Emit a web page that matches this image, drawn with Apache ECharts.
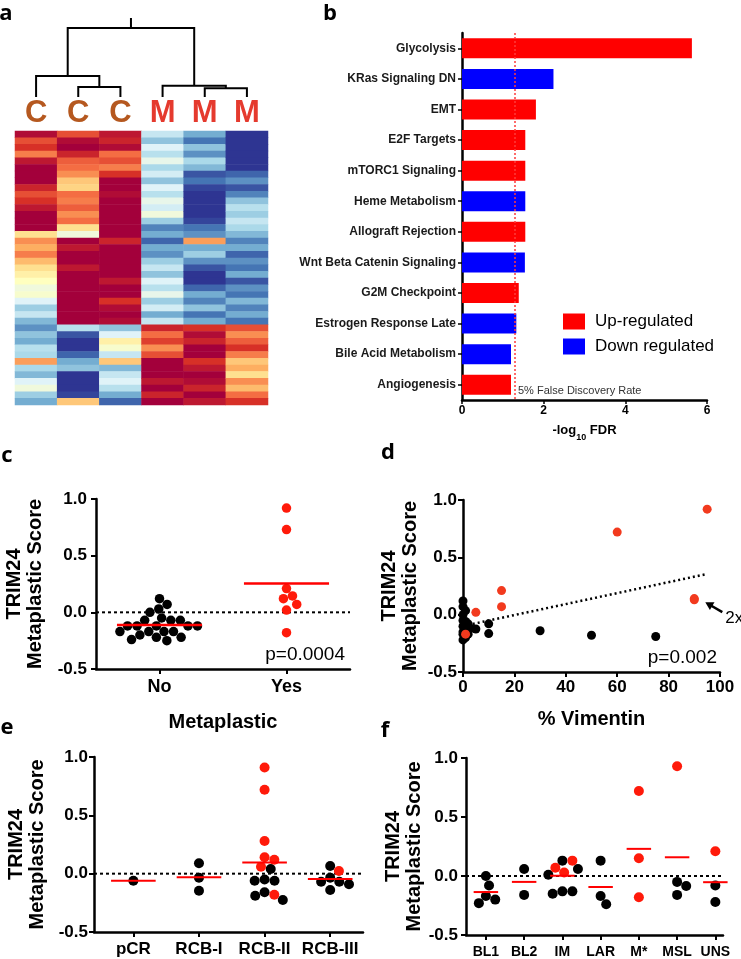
<!DOCTYPE html>
<html>
<head>
<meta charset="utf-8">
<script src="https://cdn.jsdelivr.net/npm/echarts@6/dist/echarts.min.js"></script>
<style>
html, body { margin: 0; padding: 0; background: #fff; }
#chart { width: 741px; height: 959px; }
</style>
</head>
<body>
<div id="chart"></div>
<script>
// ---------- panel a: expression heatmap (rows top -> bottom) ----------
const samples = ['C1', 'C2', 'C3', 'M1', 'M2', 'M3']
const heatC1 = [0.95, 0.7, 0.8, 0.55, 0.9, 1, 1, 1, 0.85, 0.7, 0.8, 0.9, 1, 1, 1, 0.2, 0.5, 0.4, 0.55, 0.35, 0.2, 0.1, 0, -0.1, -0.05, -0.2, -0.45, -0.3, -0.55, -0.7, -0.5, -0.6, -0.35, -0.4, 0.45, -0.4, -0.55, -0.2, -0.1, -0.45, -0.6]
const heatC2 = [0.7, 0.95, 1, 0.85, 0.65, 0.6, 0.5, 0.3, 0.25, 0.6, 0.55, 0.65, 0.5, 0.6, 0.2, -0.1, 1, 0.9, 1, 1, 0.9, 1, 1, 1, 1, 1, 1, 1, 1, -0.35, -0.9, -1, -1, -0.85, -0.6, -0.5, -1, -1, -1, -0.95, 0.3]
const heatC3 = [0.9, 0.85, 0.95, 0.6, 0.7, 0.55, 0.8, 1, 1, 0.95, 1, 1, 1, 1, 1, 1, 0.85, 1, 1, 1, 1, 1, 0.9, 1, 1, 0.8, 0.95, 1, 0.95, -0.5, -0.2, 0.1, -0.05, -0.3, 0.3, -0.55, -0.3, -0.2, -0.35, -0.6, -0.85]
const heatM1 = [-0.3, -0.5, -0.2, -0.35, -0.15, -0.4, -0.25, -0.5, -0.2, -0.35, -0.15, -0.25, -0.1, -0.45, -0.75, -0.6, -0.85, -0.6, -0.7, -0.45, -0.3, -0.5, -0.2, -0.35, -0.15, -0.45, -0.25, -0.6, -0.3, 0.85, 0.6, 0.75, 0.5, 0.7, 1, 1, 1, 0.9, 1, 0.85, 1]
const heatM2 = [-0.6, -0.8, -0.5, -0.7, -0.4, -0.55, -0.9, -0.8, -0.95, -1, -1, -1, -1, -0.95, -0.8, -0.7, 0.45, -0.6, -0.45, -0.7, -0.9, -1, -1, -0.85, -0.6, -0.75, -0.5, -0.8, -0.6, 0.8, 0.95, 0.85, 1, 1, 0.8, 0.9, 1, 0.95, 0.85, 1, 0.9]
const heatM3 = [-1, -1, -1, -1, -1, -1, -0.85, -0.7, -0.9, -0.75, -0.5, -0.35, -0.45, -0.3, -0.4, -0.55, -0.75, -0.6, -0.85, -0.7, -0.8, -0.6, -0.9, -0.7, -0.8, -0.55, -0.75, -0.6, -0.8, 0.7, 0.5, 0.65, 0.8, 0.55, 0.3, 0.4, 0.2, 0.5, 0.35, 0.6, 0.8]
// dendrogram: [left node, right node, merge height]; leaves are 0..5, merges get 6, 7, ...
const dendroMerges = [[1, 2, 10], [4, 5, 8.7], [0, 6, 21], [3, 7, 11.3], [8, 9, 69]]
const dendroRootStub = 10

// ---------- panel b: hallmark pathways ----------
const pathways = ['Glycolysis', 'KRas Signaling DN', 'EMT', 'E2F Targets', 'mTORC1 Signaling', 'Heme Metabolism',
  'Allograft Rejection', 'Wnt Beta Catenin Signaling', 'G2M Checkpoint', 'Estrogen Response Late',
  'Bile Acid Metabolism', 'Angiogenesis']
const negLog10Fdr = [5.63, 2.24, 1.81, 1.55, 1.55, 1.55, 1.55, 1.54, 1.39, 1.33, 1.2, 1.2]
const direction = ['up', 'down', 'up', 'up', 'up', 'down', 'up', 'down', 'up', 'down', 'down', 'up']
const fdrThreshold = 1.3

// ---------- panel c: score by metaplastic status ----------
const metaplasticGroups = ['No', 'Yes']
const scoresNo = [0.12, 0.07, 0.03, 0.0, -0.05, -0.07, -0.07, -0.07, -0.12, -0.12, -0.12, -0.12, -0.12,
  -0.17, -0.17, -0.17, -0.17, -0.2, -0.22, -0.22, -0.24, -0.25]
const scoresYes = [0.92, 0.73, 0.21, 0.145, 0.12, 0.07, 0.02, -0.18]

// ---------- panel d: score vs % vimentin ----------
const vimentinBlack = [0, 1, 0, 0, 2, 0, 1, 0, 0, 1, 0, 2, 3, 5, 10, 10, 30, 50, 75, 1, 2, 0]
const scoreBlack = [0.12, 0.035, 0.0, -0.05, -0.08, -0.1, -0.12, -0.15, -0.17, -0.2, -0.22, -0.1, -0.12, -0.125, -0.08, -0.165, -0.14, -0.18, -0.19, -0.06, -0.17, 0.07]
const vimentinRed = [95, 60, 15, 15, 5, 90, 90, 1]
const scoreRed = [0.92, 0.72, 0.21, 0.07, 0.02, 0.13, 0.14, -0.17]
const trendIntercept = -0.099
const trendSlope = 0.00478
const duplicateNote = { vimentin: 90, score: 0.135, label: '2x' }

// ---------- panel e: score by residual cancer burden ----------
const rcbGroups = ['pCR', 'RCB-I', 'RCB-II', 'RCB-III']
const rcbBlack = [[-0.06], [0.09, -0.034, -0.147], [0.04, -0.06, -0.06, -0.05, -0.16, -0.225, -0.19], [0.065, -0.034, -0.07, -0.09, -0.07, -0.14]]
const rcbRed = [[], [], [0.91, 0.72, 0.28, 0.12, 0.14, 0.06, -0.18], [0.023]]

// ---------- panel f: score by TNBC subtype ----------
const subtypes = ['BL1', 'BL2', 'IM', 'LAR', 'M*', 'MSL', 'UNS']
const subtypeBlack = [[0, -0.08, -0.17, -0.2, -0.23], [0.06, -0.16], [0.06, 0.13, 0.01, -0.15, -0.13, -0.13], [0.13, -0.17, -0.24], [], [-0.05, -0.16, -0.085], [-0.08, -0.22, -0.12]]
const subtypeRed = [[], [], [0.13, 0.03, 0.07], [], [0.72, 0.15, -0.18], [0.93], [0.21]]

const FONT = 'Liberation Sans'
const RED = '#ff1a0a'

// beeswarm: spread points of one group sideways so dots don't overlap
function swarm (points, center, dotPx, pxPerX, pxPerY) {
  const placed = []
  const order = points.map((p, i) => i).sort((a, b) => points[b].y - points[a].y)
  const out = []
  order.forEach(i => {
    const py = points[i].y * pxPerY
    const cands = [0]
    placed.forEach(p => {
      const dy = Math.abs(p.py - py)
      if (dy < dotPx) {
        const dx = Math.sqrt(dotPx * dotPx - dy * dy)
        cands.push(p.px + dx, p.px - dx)
      }
    })
    cands.sort((a, b) => Math.abs(a) - Math.abs(b))
    const px = cands.find(c => placed.every(p => (p.px - c) ** 2 + (p.py - py) ** 2 >= dotPx * dotPx - 0.01))
    placed.push({ px, py })
    out.push({ x: center + px / pxPerX, y: points[i].y, red: points[i].red })
  })
  return out
}

function mean (arr) {
  return arr.reduce((s, v) => s + v, 0) / arr.length
}

// scatter (black + red), zero line and group mean bars for a strip panel
function stripSeries (axisIndex, blackGroups, redGroups, grid, xMin, xMax, dot, halfWidth, lineWidth) {
  const pxPerX = grid.width / (xMax - xMin)
  const pxPerY = grid.height / 1.5
  const black = []
  const red = []
  const means = []
  blackGroups.forEach((g, gi) => {
    const pts = g.map(y => ({ y, red: false })).concat(redGroups[gi].map(y => ({ y, red: true })))
    if (!pts.length) return
    swarm(pts, gi, dot, pxPerX, pxPerY).forEach(p => (p.red ? red : black).push([p.x, p.y]))
    means.push([gi, mean(pts.map(p => p.y))])
  })
  const ax = { xAxisIndex: axisIndex, yAxisIndex: axisIndex }
  return [
    {
      type: 'line', ...ax, showSymbol: false, silent: true, z: 1,
      data: [[xMin, 0], [xMax, 0]], lineStyle: { color: '#000', type: [3, 3], width: 2 }
    },
    { type: 'scatter', ...ax, data: black, symbolSize: dot, itemStyle: { color: '#000', opacity: 1 }, z: 3 },
    { type: 'scatter', ...ax, data: red, symbolSize: dot, itemStyle: { color: RED, opacity: 1 }, z: 4 },
    {
      type: 'custom', ...ax, data: means, z: 5, silent: true,
      renderItem: (params, api) => {
        const a = api.coord([api.value(0) - halfWidth, api.value(1)])
        const b = api.coord([api.value(0) + halfWidth, api.value(1)])
        return { type: 'line', shape: { x1: a[0], y1: a[1], x2: b[0], y2: b[1] }, style: { stroke: '#ff0000', lineWidth } }
      }
    }
  ]
}

function scoreAxis (gridIndex, nameGap, labelMargin) {
  return {
    type: 'value', gridIndex, min: -0.5, max: 1.0, interval: 0.5,
    axisLine: { show: true, onZero: false, lineStyle: { color: '#000', width: 2.5 } },
    axisTick: { show: true, length: 5, lineStyle: { color: '#000', width: 2 } },
    axisLabel: { color: '#000', fontSize: 17, fontWeight: 'bold', fontFamily: FONT, margin: labelMargin, formatter: v => v.toFixed(1) },
    splitLine: { show: false },
    name: 'TRIM24\nMetaplastic Score', nameLocation: 'middle', nameRotate: 90, nameGap,
    nameTextStyle: { color: '#000', fontSize: 20, fontWeight: 'bold', fontFamily: FONT, lineHeight: 21 }
  }
}

function groupAxis (gridIndex, labels, min, max, fontSize, margin, name, nameGap) {
  const ticks = labels.map((l, i) => i)
  return {
    type: 'value', gridIndex, min, max,
    axisLine: { show: true, onZero: false, lineStyle: { color: '#000', width: 2.5 } },
    axisTick: { show: true, length: 5, customValues: ticks, lineStyle: { color: '#000', width: 2 } },
    axisLabel: { customValues: ticks, color: '#000', fontSize, fontWeight: 'bold', fontFamily: FONT, margin, formatter: v => labels[Math.round(v)] || '' },
    splitLine: { show: false },
    name, nameLocation: 'middle', nameGap,
    nameTextStyle: { color: '#000', fontSize: 20, fontWeight: 'bold', fontFamily: FONT }
  }
}

const grids = [
  { left: 15, top: 18, width: 253, height: 79 }, // dendrogram
  { left: 15, top: 131, width: 253, height: 274 }, // heatmap
  { left: 462, top: 33, width: 245, height: 367 }, // b
  { left: 96, top: 499, width: 254, height: 170 }, // c
  { left: 463, top: 500, width: 257, height: 172 }, // d
  { left: 94, top: 757, width: 269, height: 175 }, // e
  { left: 466, top: 758, width: 257, height: 178 } // f
]

// heatmap cells
const heatColumns = [heatC1, heatC2, heatC3, heatM1, heatM2, heatM3]
const heatRows = heatC1.map((v, i) => 'g' + i)
const heatData = []
heatColumns.forEach((col, j) => col.forEach((v, i) => heatData.push([j, i, v])))

// dendrogram links
const nodes = samples.map((s, i) => ({ x: i + 0.5, h: 0 }))
const dendroLinks = dendroMerges.map(([a, b, h]) => {
  const na = nodes[a]
  const nb = nodes[b]
  nodes.push({ x: (na.x + nb.x) / 2, h })
  return { coords: [[na.x, na.h], [na.x, h], [nb.x, h], [nb.x, nb.h]] }
})
const root = nodes[nodes.length - 1]
dendroLinks.push({ coords: [[root.x, root.h], [root.x, root.h + dendroRootStub]] })

// trend line across the observed vimentin range
const allVim = vimentinBlack.concat(vimentinRed)
const trendX = [Math.min(...allVim), Math.max(...allVim)]

const option = {
  animation: false,
  backgroundColor: '#fff',
  grid: grids,
  visualMap: {
    type: 'continuous', show: false, min: -1, max: 1, dimension: 2, seriesIndex: 0,
    inRange: { color: ['#2e3592', '#4575b4', '#74add1', '#abd9e9', '#e0f3f8', '#ffffbf', '#fee090', '#fdae61', '#f46d43', '#d73027', '#a3003b'] }
  },
  legend: {
    data: ['Up-regulated', 'Down regulated'], orient: 'vertical', left: 558, top: 308,
    itemWidth: 22, itemHeight: 16, itemGap: 8, icon: 'rect',
    textStyle: { color: '#000', fontSize: 17, fontFamily: FONT, padding: [0, 0, 0, 5] }
  },
  xAxis: [
    { type: 'value', gridIndex: 0, min: 0, max: 6, show: false },
    {
      type: 'category', gridIndex: 1, data: samples, position: 'top',
      axisLine: { show: false }, axisTick: { show: false },
      axisLabel: {
        margin: 2, interval: 0,
        formatter: v => v[0] === 'C' ? '{c|C}' : '{m|M}',
        rich: {
          c: { color: '#b5581f', fontSize: 31, fontWeight: 'bold', fontFamily: FONT },
          m: { color: '#e53a2e', fontSize: 31, fontWeight: 'bold', fontFamily: FONT }
        }
      }
    },
    {
      type: 'value', gridIndex: 2, min: 0, max: 6, interval: 2,
      axisLine: { show: true, onZero: false, lineStyle: { color: '#000', width: 2.5 } },
      axisTick: { show: true, length: 4, lineStyle: { color: '#000', width: 1.5 } },
      axisLabel: { color: '#000', fontSize: 12, fontWeight: 'bold', fontFamily: FONT, margin: 5 },
      splitLine: { show: false },
      name: '{b|-log}{s|10}{b| FDR}', nameLocation: 'middle', nameGap: 24,
      nameTextStyle: {
        rich: {
          b: { color: '#000', fontSize: 13, fontWeight: 'bold', fontFamily: FONT, lineHeight: 18, verticalAlign: 'top' },
          s: { color: '#000', fontSize: 9, fontWeight: 'bold', fontFamily: FONT, lineHeight: 9, verticalAlign: 'bottom' }
        }
      }
    },
    groupAxis(3, metaplasticGroups, -0.5, 1.5, 18, 9, 'Metaplastic', 43),
    {
      type: 'value', gridIndex: 4, min: 0, max: 100, interval: 20,
      axisLine: { show: true, onZero: false, lineStyle: { color: '#000', width: 2.5 } },
      axisTick: { show: true, length: 5, lineStyle: { color: '#000', width: 2 } },
      axisLabel: { color: '#000', fontSize: 17, fontWeight: 'bold', fontFamily: FONT, margin: 7 },
      splitLine: { show: false },
      name: '% Vimentin', nameLocation: 'middle', nameGap: 37,
      nameTextStyle: { color: '#000', fontSize: 20, fontWeight: 'bold', fontFamily: FONT }
    },
    groupAxis(5, rcbGroups, -0.6, 3.5, 17, 9, '', 0),
    groupAxis(6, subtypes, -0.52, 6.2, 14, 10, '', 0)
  ],
  yAxis: [
    { type: 'value', gridIndex: 0, min: 0, max: 79, show: false },
    { type: 'category', gridIndex: 1, data: heatRows, inverse: true, show: false },
    {
      type: 'category', gridIndex: 2, data: pathways, inverse: true,
      axisLine: { show: true, lineStyle: { color: '#000', width: 2.5 } },
      axisTick: { show: true, alignWithLabel: true, length: 4, lineStyle: { color: '#000', width: 1.5 } },
      axisLabel: { interval: 0, color: '#1a1a1a', fontSize: 12, fontWeight: 'bold', fontFamily: FONT, margin: 6 }
    },
    scoreAxis(3, 50.5, 9),
    scoreAxis(4, 42.5, 6),
    scoreAxis(5, 46.5, 6),
    scoreAxis(6, 41.5, 8)
  ],
  series: [
    {
      type: 'heatmap', xAxisIndex: 1, yAxisIndex: 1, data: heatData,
      itemStyle: { borderWidth: 0 }, emphasis: { disabled: true }
    },
    {
      type: 'lines', coordinateSystem: 'cartesian2d', xAxisIndex: 0, yAxisIndex: 0, polyline: true,
      data: dendroLinks, lineStyle: { color: '#000', width: 2, opacity: 1 }
    },
    {
      type: 'bar', name: 'Up-regulated', xAxisIndex: 2, yAxisIndex: 2, barWidth: 20, barGap: '-100%',
      data: negLog10Fdr.map((v, i) => direction[i] === 'up' ? v : null),
      itemStyle: { color: '#ff0000' },
      markLine: {
        symbol: 'none', silent: true, label: { show: false },
        lineStyle: { color: '#ff3b3b', type: [2, 2], width: 1.5 },
        data: [{ xAxis: fdrThreshold }]
      }
    },
    {
      type: 'bar', name: 'Down regulated', xAxisIndex: 2, yAxisIndex: 2, barWidth: 20, barGap: '-100%',
      data: negLog10Fdr.map((v, i) => direction[i] === 'down' ? v : null),
      itemStyle: { color: '#0000ff' }
    },
    ...stripSeries(3, [scoresNo, []], [[], scoresYes], grids[3], -0.5, 1.5, 9.5, 0.335, 2.5),
    {
      type: 'line', xAxisIndex: 4, yAxisIndex: 4, showSymbol: false, silent: true,
      data: trendX.map(x => [x, trendIntercept + trendSlope * x]),
      lineStyle: { color: '#000', type: [2, 3], width: 2.5 }, z: 2
    },
    {
      type: 'scatter', xAxisIndex: 4, yAxisIndex: 4, symbolSize: 9,
      data: vimentinBlack.map((x, i) => [x, scoreBlack[i]]), itemStyle: { color: '#000', opacity: 1 }, z: 3
    },
    {
      type: 'scatter', xAxisIndex: 4, yAxisIndex: 4, symbolSize: 9,
      data: vimentinRed.map((x, i) => [x, scoreRed[i]]), itemStyle: { color: '#f23a1e', opacity: 1 }, z: 4
    },
    ...stripSeries(5, rcbBlack, rcbRed, grids[5], -0.6, 3.5, 10, 0.34, 2),
    ...stripSeries(6, subtypeBlack, subtypeRed, grids[6], -0.52, 6.2, 10, 0.32, 2)
  ]
}

const chart = echarts.init(document.getElementById('chart'))
chart.setOption(option)

// annotations
const panelLetters = [['a', 6, 14], ['b', 330, 14], ['c', 7, 456], ['d', 388, 453], ['e', 7, 728], ['f', 385, 731]]
const graphic = panelLetters.map(([t, x, y]) => ({
  type: 'text', x, y,
  style: { text: t, fontSize: 22, fontWeight: 'bold', fontFamily: 'Open Sans', fill: '#000', align: 'center', verticalAlign: 'middle' }
}))
graphic.push(
  { type: 'text', x: 518, y: 391, style: { text: '5% False Discovery Rate', fontSize: 11, fontFamily: FONT, fill: '#333', align: 'left', verticalAlign: 'middle' } },
  { type: 'text', x: 345, y: 655, style: { text: 'p=0.0004', fontSize: 19, fontFamily: FONT, fill: '#000', align: 'right', verticalAlign: 'middle' } },
  { type: 'text', x: 717, y: 658, style: { text: 'p=0.002', fontSize: 19, fontFamily: FONT, fill: '#000', align: 'right', verticalAlign: 'middle' } }
)
const p = chart.convertToPixel({ xAxisIndex: 4, yAxisIndex: 4 }, [duplicateNote.vimentin, duplicateNote.score])
const tip = [p[0] + 11, p[1] + 3]
const tail = [p[0] + 28, p[1] + 13]
const len = Math.hypot(tip[0] - tail[0], tip[1] - tail[1])
const ux = (tip[0] - tail[0]) / len
const uy = (tip[1] - tail[1]) / len
graphic.push(
  { type: 'line', shape: { x1: tail[0], y1: tail[1], x2: tip[0] - ux * 5, y2: tip[1] - uy * 5 }, style: { stroke: '#000', lineWidth: 2.5 } },
  {
    type: 'polygon',
    shape: { points: [tip, [tip[0] - ux * 8 - uy * 4.5, tip[1] - uy * 8 + ux * 4.5], [tip[0] - ux * 8 + uy * 4.5, tip[1] - uy * 8 - ux * 4.5]] },
    style: { fill: '#000' }
  },
  { type: 'text', x: tail[0] + 3, y: tail[1] + 6, style: { text: duplicateNote.label, fontSize: 17, fontFamily: FONT, fill: '#000', align: 'left', verticalAlign: 'middle' } }
)
chart.setOption({ graphic })
</script>
</body>
</html>
